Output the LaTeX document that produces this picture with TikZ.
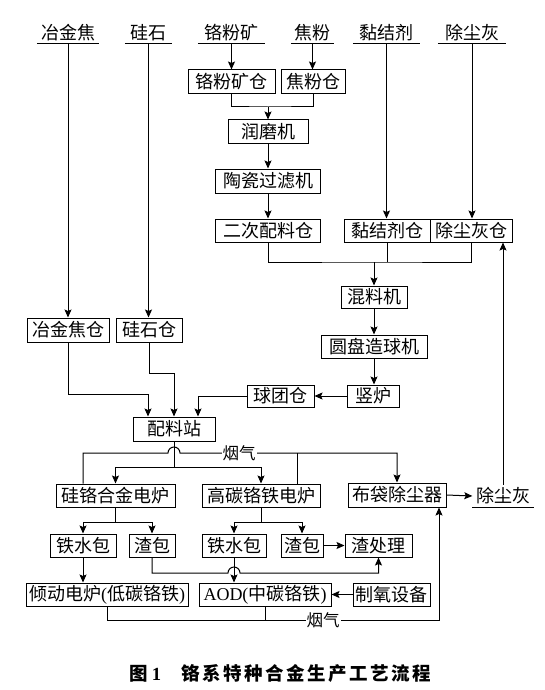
\documentclass[tikz,border=0pt]{standalone}
\usepackage{fontspec}
\setmainfont{Noto Sans CJK SC}
\newfontfamily\latf{Liberation Serif}
\usetikzlibrary{arrows.meta}
\tikzset{
  box/.style={draw, line width=1pt, inner sep=0pt, minimum height=23pt, font=\fontsize{18}{20}\selectfont},
  src/.style={inner sep=0pt, minimum height=22pt, anchor=south, font=\fontsize{18}{20}\selectfont},
  lnk/.style={line width=1pt},
  arr/.style={line width=1pt, -{Stealth[length=8pt,width=7pt,inset=1.5pt]}},
  lbl/.style={fill=white, inner sep=1pt, font=\fontsize{16.5}{18}\selectfont}
}
\begin{document}
\begin{tikzpicture}[x=1pt,y=-1pt]
\useasboundingbox (0,0) rectangle (545,690);
% source labels
\node[src, minimum width=62pt] (s1) at (68,44) {冶金焦};
\node[src, minimum width=47pt] (s2) at (148.5,44) {硅石};
\node[src, minimum width=67pt] (s3) at (231.5,44) {铬粉矿};
\node[src, minimum width=43pt] (s4) at (312.5,44) {焦粉};
\node[src, minimum width=67pt] (s5) at (386.5,44) {黏结剂};
\node[src, minimum width=68pt] (s6) at (472,44) {除尘灰};
\foreach \n in {s1,s2,s3,s4,s5,s6} \draw[lnk] (\n.south west) -- (\n.south east);
% boxes
\node[box, minimum width=87pt, minimum height=24pt] (grk) at (231.5,82) {铬粉矿仓};
\node[box, minimum width=64pt, minimum height=24pt] (jfc) at (313,82) {焦粉仓};
\node[box, minimum width=80pt] (rmj) at (268,131.5) {润磨机};
\node[box, minimum width=105pt, minimum height=24pt] (tc) at (268,181) {陶瓷过滤机};
\node[box, minimum width=105pt] (ec) at (268,230.5) {二次配料仓};
\node[box, minimum width=86pt] (njc) at (387,230.5) {黏结剂仓};
\node[box, minimum width=82pt] (ccc) at (471,230.5) {除尘灰仓};
\node[box, minimum width=66pt, minimum height=22pt] (hlj) at (374,297) {混料机};
\node[box, minimum width=106pt] (yp) at (374,346.5) {圆盘造球机};
\node[box, minimum width=52pt, minimum height=22pt] (sl) at (373,396) {竖炉};
\node[box, minimum width=67pt, minimum height=22pt] (qtc) at (280.5,396) {球团仓};
\node[box, minimum width=82pt, minimum height=24pt] (yjc) at (68,330) {冶金焦仓};
\node[box, minimum width=66pt, minimum height=24pt] (gsc) at (149,330) {硅石仓};
\node[box, minimum width=82pt, minimum height=24pt] (plz) at (174,429) {配料站};
\node[box, minimum width=119pt] (gh) at (115.5,495.5) {硅铬合金电炉};
\node[box, minimum width=118pt] (gt) at (261,495.5) {高碳铬铁电炉};
\node[box, minimum width=98pt, minimum height=24pt] (bd) at (397,495) {布袋除尘器};
\node[src, minimum width=61pt, anchor=center] (dh2) at (503,496) {除尘灰};
\draw[lnk] (dh2.south west) -- (dh2.south east);
\node[box, minimum width=66pt] (tsb1) at (83,545.5) {铁水包};
\node[box, minimum width=46pt] (zb1) at (152,545.5) {渣包};
\node[box, minimum width=64pt] (tsb2) at (234,545.5) {铁水包};
\node[box, minimum width=42pt] (zb2) at (302,545.5) {渣包};
\node[box, minimum width=67pt] (zcl) at (378.5,545.5) {渣处理};
\node[box, minimum width=162pt] (qd) at (107,594.5) {倾动电炉{\latf (}低碳铬铁{\latf )}};
\node[box, minimum width=132pt] (aod) at (265,594.5) {{\latf AOD(}中碳铬铁{\latf )}};
\node[box, minimum width=77pt] (zy) at (391.5,594.5) {制氧设备};
% coordinates
\coordinate (j1) at (268,107);
\coordinate (j2) at (374,262);
\coordinate (k1) at (148,394);
\coordinate (k2) at (174,373);
\coordinate (k3) at (174,467);
\coordinate (h1) at (168,453);
\coordinate (h2) at (397,453);
\coordinate (k4) at (115.5,522);
\coordinate (k5) at (261,522);
\coordinate (h3) at (228,573);
\coordinate (k6) at (439,620);
% top connectors
\draw[arr] (s1.south) -- (yjc.north);
\draw[arr] (s2.south) -- (s2.south |- gsc.north);
\draw[arr] (s3.south) -- (s3.south |- grk.north);
\draw[arr] (s4.south) -- (s4.south |- jfc.north);
\draw[arr] (s5.south) -- (s5.south |- njc.north);
\draw[arr] (s6.south) -- (s6.south |- ccc.north);
\draw[lnk] (grk.south) |- (j1) -| (jfc.south);
\draw[arr] (j1) -- (rmj.north);
\draw[arr] (rmj.south) -- (tc.north);
\draw[arr] (tc.south) -- (ec.north);
\draw[lnk] (ec.south) |- (j2) -| (ccc.south);
\draw[lnk] (njc.south) -- (njc.south |- j2);
\draw[arr] (j2) -- (hlj.north);
\draw[arr] (hlj.south) -- (yp.north);
\draw[arr] (yp.south) -- (yp.south |- sl.north);
\draw[arr] (sl.west) -- (qtc.east);
\draw[arr] (qtc.west) -| ([xshift=24pt]plz.north);
\draw[arr] (yjc.south) |- (k1) -- (k1 |- plz.north);
\draw[arr] (gsc.south) |- (k2) -- (plz.north);
% furnaces
\draw[lnk] (plz.south) -- (k3);
\draw[arr] (k3) -| (gh.north);
\draw[arr] (k3) -| (gt.north);
\draw[arr] ([xshift=-32.5pt]gh.north) |- (h1) arc[start angle=180, end angle=0, radius=6pt] -- (h2) -- (bd.north);
\draw[lnk] ([xshift=36pt]gt.north) -- ([xshift=36pt]gt.north |- h2);
\node[lbl] (yq1) at (239,453) {烟气};
\draw[arr] (bd.east) -- (dh2.west);
\draw[arr] (dh2.north) -- (dh2.north |- ccc.south);
\draw[lnk] (gh.south) -- (k4);
\draw[arr] (k4) -| (tsb1.north);
\draw[arr] (k4) -| (zb1.north);
\draw[lnk] (gt.south) -- (k5);
\draw[arr] (k5) -| (tsb2.north);
\draw[arr] (k5) -| (zb2.north);
\draw[arr] (zb2.east) -- (zcl.west);
\draw[arr] (tsb1.south) -- (tsb1.south |- qd.north);
\draw[arr] (tsb2.south) -- (tsb2.south |- aod.north);
\draw[arr] (zb1.south) |- (h3) arc[start angle=180, end angle=0, radius=6pt] -| (zcl.south);
\draw[arr] (zy.west) -- (aod.east);
\draw[arr] (qd.south) |- (k6) -- (k6 |- bd.south);
\draw[lnk] (aod.south) -- (aod.south |- k6);
\node[lbl] (yq2) at (323,620) {烟气};
% caption
\node[font=\fontsize{18.5}{20}\selectfont\bfseries, inner sep=0pt] (cap) at (280,673)
  {图\kern4pt{\latf\bfseries 1}\kern20pt 铬\kern2.5pt 系\kern2.5pt 特\kern2.5pt 种\kern2.5pt 合\kern2.5pt 金\kern2.5pt 生\kern2.5pt 产\kern2.5pt 工\kern2.5pt 艺\kern2.5pt 流\kern2.5pt 程};
\end{tikzpicture}
\end{document}
